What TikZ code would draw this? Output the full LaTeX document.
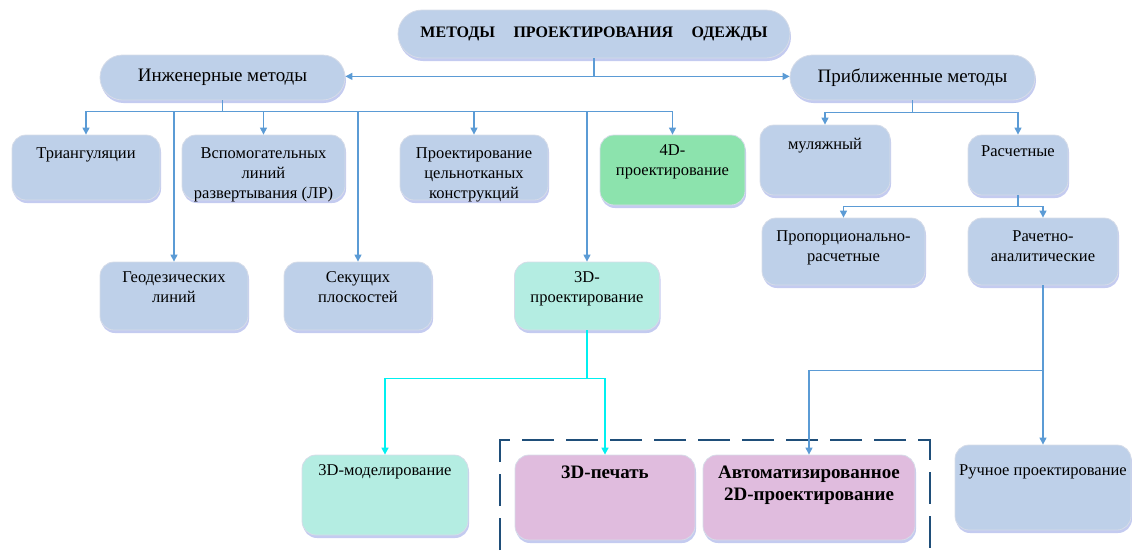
\documentclass[tikz,border=0pt]{standalone}
\usepackage{fontspec}
\setmainfont{Liberation Serif}
\usetikzlibrary{arrows.meta,shadows}
\definecolor{boxblue}{RGB}{190,208,233}
\definecolor{boxedge}{RGB}{214,220,232}
\definecolor{shadowblue}{RGB}{196,203,240}
\definecolor{greenbox}{RGB}{140,227,173}
\definecolor{mintbox}{RGB}{180,237,226}
\definecolor{pinkbox}{RGB}{224,188,222}
\definecolor{linkblue}{RGB}{91,155,213}
\definecolor{linkcyan}{RGB}{0,240,240}
\definecolor{framecol}{RGB}{31,78,121}
\newcommand{\celltext}[4][11pt]{\parbox[c][#3][t]{#2}{\centering\vspace*{#1}#4}}

\begin{document}
\begin{tikzpicture}[x=1pt,y=-1pt,
  cell/.style={rounded corners=14pt, fill=boxblue, draw=boxedge, line width=0.8pt, inner sep=0pt,
    drop shadow={shadow xshift=1pt, shadow yshift=-3pt, fill=shadowblue, opacity=1},
    font=\fontsize{16.5}{20}\selectfont},
  pill/.style={cell, rounded corners=22.5pt, minimum height=45pt, font=\fontsize{19}{22}\selectfont},
  bold/.style={font=\bfseries\fontsize{19}{22}\selectfont},
  link/.style={draw=linkblue, line width=1.2pt},
  arr/.style={link, -{Triangle[length=7pt,width=7pt]}},
  clink/.style={draw=linkcyan, line width=1.5pt},
  carr/.style={clink, -{Triangle[length=7pt,width=7pt]}}]
\useasboundingbox (0,0) rectangle (1132,550);

\draw[framecol, line width=2pt, dash pattern=on 32pt off 12pt] (500,550) -- (500,440) -- (930,440) -- (930,550);

\node[pill, minimum width=392pt, minimum height=48pt, rounded corners=24pt, font=\bfseries\fontsize{16}{18}\selectfont] (title) at (594,34) {МЕТОДЫ\hspace{0.9em} ПРОЕКТИРОВАНИЯ\hspace{0.9em} ОДЕЖДЫ};
\node[pill, minimum width=245pt] (ing) at (222.5,77.5) {Инженерные методы};
\node[pill, minimum width=245pt] (appr) at (912.5,77.5) {Приближенные методы};

\node[cell] (tri) at (86,167.5) {\celltext[13pt]{148pt}{65pt}{Триангуляции}};
\node[cell] (vsp) at (263.5,167.5) {\celltext[13pt]{163pt}{65pt}{Вспомогательных\\линий\\развертывания (ЛР)}};
\node[cell] (celn) at (474,167.5) {\celltext[13pt]{148pt}{65pt}{Проектирование\\цельнотканых\\конструкций}};
\node[cell, fill=greenbox] (fourd) at (672.5,170) {\celltext[10pt]{145pt}{70pt}{4D-\\проектирование}};
\node[cell] (mul) at (825,160) {\celltext[13pt]{130pt}{70pt}{муляжный}};
\node[cell] (rasch) at (1018,165) {\celltext{100pt}{60pt}{Расчетные}};

\node[cell] (prop) at (843.5,251.5) {\celltext[13pt]{163pt}{67pt}{Пропорционально-\\расчетные}};
\node[cell] (ranal) at (1043,251.5) {\celltext[13pt]{150pt}{67pt}{Рачетно-\\аналитические}};
\node[cell] (geo) at (174,296) {\celltext[10pt]{148pt}{68pt}{Геодезических\\линий}};
\node[cell] (sek) at (358,296) {\celltext[10pt]{148pt}{68pt}{Секущих\\плоскостей}};
\node[cell, fill=mintbox] (tdp) at (587,296) {\celltext[10pt]{145pt}{68pt}{3D-\\проектирование}};

\node[cell, fill=mintbox] (tdm) at (385,495) {\celltext[10pt]{166pt}{80pt}{3D-моделирование}};
\node[cell, fill=pinkbox, bold] (tpr) at (605,497.5) {\celltext{180pt}{85pt}{3D-печать}};
\node[cell, fill=pinkbox, bold] (avt) at (809,497.5) {\celltext{212pt}{85pt}{Автоматизированное\\2D-проектирование}};
\node[cell] (ruch) at (1043,487.5) {\celltext[20pt]{176pt}{85pt}{Ручное проектирование}};

\draw[link] (title.south) -- ++(0,18) coordinate (tj);
\draw[arr] (tj) -- (tj -| ing.east);
\draw[arr] (tj) -- (tj -| appr.west);

\draw[link] (ing.south) -- ++(0,11) coordinate (ib);
\draw[link] (ib -| tri.north) -- (ib -| fourd.north);
\foreach \n in {tri,vsp,celn,fourd,geo,sek,tdp}
  \draw[arr] (ib -| \n.north) -- (\n.north);

\draw[link] (appr.south) -- ++(0,12) coordinate (ab);
\draw[link] (ab -| mul.north) -- (ab -| rasch.north);
\foreach \n in {mul,rasch}
  \draw[arr] (ab -| \n.north) -- (\n.north);

\draw[link] (rasch.south) -- ++(0,11) coordinate (rb);
\draw[link] (rb -| prop.north) -- (rb -| ranal.north);
\foreach \n in {prop,ranal}
  \draw[arr] (rb -| \n.north) -- (\n.north);

\draw[arr] (ranal.south) -- (ruch.north);
\path (ranal.south) ++(0,85) coordinate (rj);
\draw[arr] (rj) -| (avt.north);

\draw[clink] (tdp.south) -- ++(0,48) coordinate (cj);
\draw[carr] (cj) -| (tdm.north);
\draw[carr] (cj) -| (tpr.north);
\end{tikzpicture}
\end{document}
